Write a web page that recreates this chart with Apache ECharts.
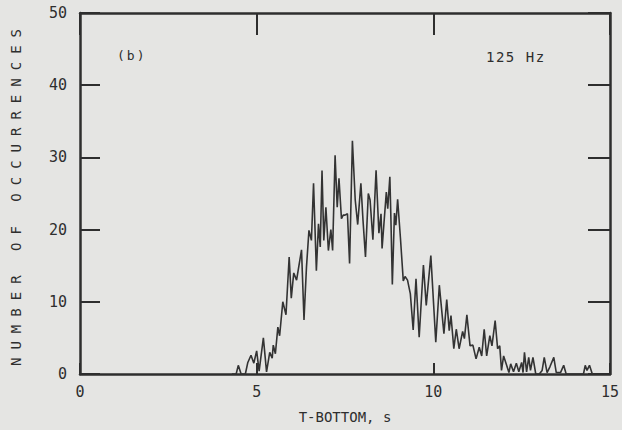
<!DOCTYPE html>
<html>
<head>
<meta charset="utf-8">
<script src="https://cdn.jsdelivr.net/npm/echarts@6/dist/echarts.min.js"></script>
<style>
  html, body { margin: 0; padding: 0; background: #e5e5e3; }
  #chart { width: 622px; height: 430px; }
</style>
</head>
<body>
<div id="chart"></div>
<script>
// Data (T-bottom in s, number of occurrences)
const tBottom = [4.30, 4.42, 4.48, 4.56, 4.68, 4.75, 4.84, 4.92, 5.00, 5.07, 5.19, 5.28, 5.37, 5.44, 5.47, 5.53, 5.60, 5.65, 5.74, 5.83,
  5.92, 5.98, 6.05, 6.13, 6.27, 6.34, 6.41, 6.48, 6.55, 6.61, 6.69, 6.75, 6.80, 6.85, 6.90, 6.96, 7.03, 7.10, 7.15, 7.22,
  7.28, 7.33, 7.40, 7.45, 7.50, 7.57, 7.63, 7.71, 7.79, 7.86, 7.95, 8.01, 8.08, 8.16, 8.21, 8.29, 8.38, 8.46, 8.52, 8.55,
  8.67, 8.71, 8.77, 8.80, 8.84, 8.90, 8.94, 8.99, 9.07, 9.15, 9.20, 9.27, 9.35, 9.43, 9.51, 9.60, 9.72, 9.80, 9.93, 10.07,
  10.17, 10.30, 10.38, 10.45, 10.50, 10.58, 10.65, 10.73, 10.83, 10.88, 10.95, 11.04, 11.12, 11.21, 11.30, 11.37, 11.44, 11.51, 11.60, 11.66,
  11.75, 11.82, 11.88, 11.93, 11.99, 12.05, 12.14, 12.19, 12.27, 12.35, 12.42, 12.50, 12.54, 12.58, 12.64, 12.70, 12.75, 12.82, 12.90, 13.00,
  13.08, 13.14, 13.22, 13.30, 13.41, 13.48, 13.60, 13.69, 13.76, 14.25, 14.30, 14.35, 14.42, 14.50];
const occurrences = [0, 0, 1.2, 0, 0, 1.6, 2.6, 1.5, 3.2, 0.4, 5.0, 0.3, 3.0, 2.2, 4.0, 2.8, 6.5, 5.3, 10.0, 8.2,
  16.2, 10.5, 14.0, 13.0, 17.2, 7.5, 14.8, 19.9, 18.5, 26.4, 14.3, 20.8, 17.6, 28.2, 18.5, 23.1, 17.1, 20.0, 17.1, 30.3,
  23.1, 27.1, 21.5, 22.0, 22.0, 22.2, 15.3, 32.3, 24.1, 20.7, 26.4, 21.3, 16.2, 25.0, 24.1, 18.6, 28.2, 19.5, 22.2, 17.4,
  25.2, 22.9, 27.3, 21.5, 12.4, 22.3, 20.6, 24.2, 18.8, 12.9, 13.5, 13.0, 11.1, 6.1, 13.2, 5.1, 15.1, 9.5, 16.4, 4.4,
  12.3, 5.6, 10.3, 6.0, 8.1, 3.5, 6.2, 3.5, 5.9, 4.9, 8.2, 3.9, 4.0, 2.1, 3.7, 2.5, 6.2, 2.5, 5.3, 3.9,
  7.4, 3.5, 3.9, 0.5, 2.5, 1.6, 0.2, 1.4, 0.3, 1.5, 0.3, 1.6, 0.2, 3.0, 0.3, 2.3, 0.5, 2.3, 0, 0,
  0.5, 2.3, 0.2, 1.0, 2.3, 0.2, 0.2, 1.2, 0, 0, 1.2, 0.5, 1.2, 0];
const xTicks = [0, 5, 10, 15];
const yTicks = [0, 10, 20, 30, 40, 50];
const xTitle = 'T-BOTTOM, s';
const yTitle = 'NUMBER OF OCCURRENCES';
const panelLabel = '(b)';
const freqLabel = '125 Hz';

const ink = '#2e2e2e';
const font = 'DejaVu Sans Mono';
const seriesData = tBottom.map((t, i) => [t, occurrences[i]]);

const chart = echarts.init(document.getElementById('chart'), null, { renderer: 'svg' });
function axisLine() { return { show: true, onZero: false, lineStyle: { color: ink, width: 2.5 } }; }
function ticks(len) { return { show: true, inside: true, length: len, lineStyle: { color: ink, width: 2 } }; }
chart.setOption({
  backgroundColor: '#e5e5e3',
  animation: false,
  grid: { left: 80, right: 12, top: 13, bottom: 56 },
  xAxis: [
    {
      type: 'value', position: 'bottom', min: xTicks[0], max: xTicks[xTicks.length - 1], interval: 5,
      splitLine: { show: false }, axisLine: axisLine(), axisTick: ticks(11),
      axisLabel: { color: ink, fontFamily: font, fontSize: 15, margin: 10 },
      name: xTitle, nameLocation: 'middle', nameGap: 36,
      nameTextStyle: { color: ink, fontFamily: font, fontSize: 14 }
    },
    {
      type: 'value', position: 'top', min: xTicks[0], max: xTicks[xTicks.length - 1], interval: 5,
      splitLine: { show: false }, axisLine: axisLine(), axisTick: ticks(22),
      axisLabel: { show: false }
    }
  ],
  yAxis: [
    {
      type: 'value', position: 'left', min: yTicks[0], max: yTicks[yTicks.length - 1], interval: 10,
      splitLine: { show: false }, axisLine: axisLine(), axisTick: ticks(20),
      axisLabel: { color: ink, fontFamily: font, fontSize: 15, margin: 13 },
      name: yTitle, nameLocation: 'middle', nameGap: 57, nameRotate: 90,
      nameTextStyle: { color: ink, fontFamily: font, fontSize: 14 }
    },
    {
      type: 'value', position: 'right', min: yTicks[0], max: yTicks[yTicks.length - 1], interval: 10,
      splitLine: { show: false }, axisLine: axisLine(), axisTick: ticks(22),
      axisLabel: { show: false }
    }
  ],
  graphic: [
    { type: 'text', left: 117, top: 49, style: { text: panelLabel, fill: ink, font: '13px "DejaVu Sans Mono"' } },
    { type: 'text', left: 486, top: 50, style: { text: freqLabel, fill: ink, font: '14px "DejaVu Sans Mono"' } }
  ],
  series: [{
    type: 'line',
    xAxisIndex: 0, yAxisIndex: 0,
    data: seriesData,
    showSymbol: false,
    lineStyle: { color: '#333333', width: 1.6 },
    z: 1
  }]
});

// widen the typewriter spacing of some labels as in the scan
function spaceTitle() {
  document.querySelectorAll('#chart text').forEach(el => {
    if (el.textContent === yTitle) el.style.letterSpacing = '8px';
    if (el.textContent === freqLabel) el.style.letterSpacing = '1.5px';
    if (el.textContent === panelLabel) el.style.letterSpacing = '2px';
  });
}
chart.on('finished', spaceTitle);
spaceTitle();
</script>
</body>
</html>
